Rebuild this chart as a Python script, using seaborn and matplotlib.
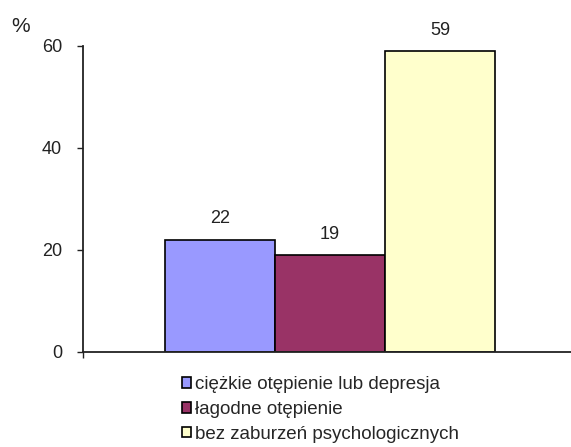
import matplotlib
matplotlib.use("Agg")
import matplotlib.pyplot as plt
import seaborn as sns
import pandas as pd
from matplotlib.patches import Patch

categories = ["ciężkie otępienie lub depresja", "łagodne otępienie", "bez zaburzeń psychologicznych"]
values = [22, 19, 59]
colors = ["#9999FF", "#993366", "#FFFFCC"]
yticks = [0, 20, 40, 60]

sns.set_style("white")
plt.rcParams["font.family"] = ["Liberation Sans", "DejaVu Sans"]

df = pd.DataFrame({"cat": categories, "val": values})

fig = plt.figure(figsize=(5.71, 4.47), dpi=100)
ax = fig.add_axes([83/571, 95/447, 1 - 83/571, 306/447])

sns.barplot(data=df, x="cat", y="val", hue="cat", order=categories, hue_order=categories,
            palette=colors, dodge=False, width=1.0, edgecolor="black", linewidth=1.2,
            legend=False, ax=ax, saturation=1)

xmin = -0.5 - 82/110
ax.set_xlim(xmin, 2.5 + 76/110)
ax.set_ylim(0, 60)
ax.set_yticks(yticks)
ax.set_yticklabels([str(t) for t in yticks], fontsize=13, color="#222222")
ax.set_xticks([xmin])
ax.set_xticklabels([""])
ax.set_xlabel("")
ax.set_ylabel("")
for s in ["top", "right"]:
    ax.spines[s].set_visible(False)
for s in ["left", "bottom"]:
    ax.spines[s].set_color("#222222")
    ax.spines[s].set_linewidth(1.3)
ax.tick_params(axis="y", left=True, length=4, width=1, color="#222222", pad=11)
ax.tick_params(axis="x", bottom=True, length=4, width=1, color="#222222")

for i, v in enumerate(values):
    ax.annotate(str(v), (i, v), xytext=(0, 9), textcoords="offset points",
                ha="center", va="bottom", fontsize=13, color="#222222", annotation_clip=False)

fig.text(21/571, 1 - 26/447, "%", fontsize=15, ha="center", va="center", color="#222222")

handles = [Patch(facecolor=c, edgecolor="black", linewidth=1.2) for c in colors]
fig.legend(handles, categories, loc="upper left", bbox_to_anchor=(182/571, 1 - 376/447),
           frameon=False, fontsize=13.5, handlelength=0.5, handleheight=0.5,
           handletextpad=0.2, labelspacing=0.42, borderaxespad=0, borderpad=0)

fig.savefig("out.png", dpi=100)
